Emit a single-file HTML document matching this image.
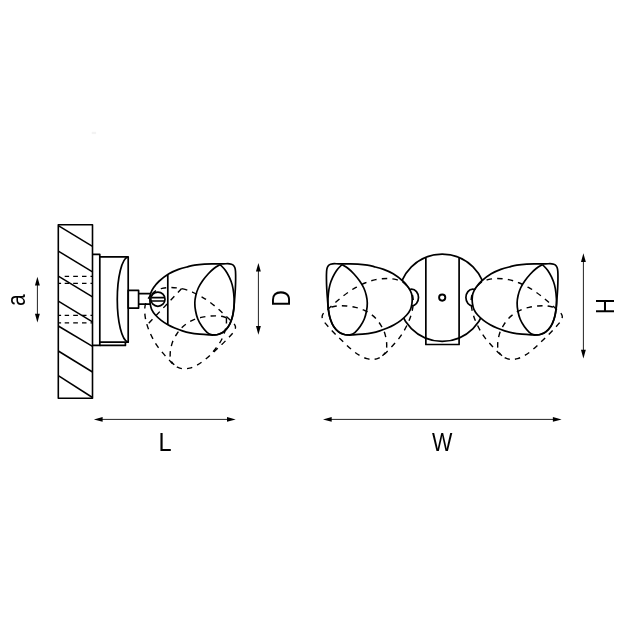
<!DOCTYPE html>
<html><head><meta charset="utf-8"><title>Diagram</title>
<style>html,body{margin:0;padding:0;background:#fff;}svg{display:block;}</style></head>
<body>
<svg width="623" height="623" viewBox="0 0 623 623">
<defs>
<g id="head"><path d="M149.90,298.80 C149.97,297.08 150.00,295.35 150.60,293.50 C151.20,291.65 152.05,289.78 153.50,287.70 C154.95,285.62 156.73,283.32 159.30,281.00 C161.87,278.68 165.70,275.73 168.90,273.80 C172.10,271.87 175.28,270.60 178.50,269.40 C181.72,268.20 185.52,267.30 188.20,266.60 C190.88,265.90 191.92,265.60 194.60,265.20 C197.28,264.80 201.08,264.42 204.30,264.20 C207.52,263.98 210.70,263.97 213.90,263.90 C217.10,263.83 220.88,263.82 223.50,263.80 C226.12,263.78 228.03,263.62 229.60,263.80 C231.17,263.98 232.03,264.28 232.90,264.90 C233.77,265.52 234.37,266.45 234.80,267.50 C235.23,268.55 235.36,269.28 235.50,271.20 C235.64,273.12 235.68,276.08 235.65,279.00 C235.62,281.92 235.51,285.48 235.35,288.70 C235.19,291.92 234.97,294.87 234.70,298.30 C234.42,301.73 234.18,305.87 233.70,309.30 C233.22,312.73 232.68,316.02 231.80,318.90 C230.92,321.78 229.77,324.43 228.40,326.60 C227.03,328.77 225.22,330.62 223.60,331.90 C221.98,333.18 220.32,333.78 218.70,334.30 C217.08,334.82 215.50,334.90 213.90,335.00 C212.30,335.10 211.47,335.03 209.10,334.90 C206.73,334.77 202.87,334.53 199.70,334.20 C196.53,333.87 192.98,333.45 190.10,332.90 C187.22,332.35 184.97,331.72 182.40,330.90 C179.83,330.08 177.12,329.03 174.70,328.00 C172.28,326.97 170.15,325.98 167.90,324.70 C165.65,323.42 163.28,321.92 161.20,320.30 C159.12,318.68 157.00,316.83 155.40,315.00 C153.80,313.17 152.47,311.17 151.60,309.30 C150.73,307.43 150.48,305.55 150.20,303.80 C149.92,302.05 149.83,300.52 149.90,298.80Z"/><path d="M220.20,264.60 C219.15,265.25 215.92,266.93 213.90,268.50 C211.88,270.07 209.98,271.95 208.10,274.00 C206.22,276.05 204.23,278.47 202.60,280.80 C200.97,283.13 199.43,285.55 198.30,288.00 C197.17,290.45 196.38,293.00 195.80,295.50 C195.22,298.00 194.83,300.42 194.80,303.00 C194.77,305.58 195.10,308.33 195.60,311.00 C196.10,313.67 196.73,316.40 197.80,319.00 C198.87,321.60 200.47,324.38 202.00,326.60 C203.53,328.82 205.50,330.98 207.00,332.30 C208.50,333.62 209.68,334.07 211.00,334.50 C212.32,334.93 214.25,334.83 214.90,334.90"/></g>
<g id="headseam"><path d="M149.90,298.80 C149.97,297.08 150.00,295.35 150.60,293.50 C151.20,291.65 152.05,289.78 153.50,287.70 C154.95,285.62 156.73,283.32 159.30,281.00 C161.87,278.68 165.70,275.73 168.90,273.80 C172.10,271.87 175.28,270.60 178.50,269.40 C181.72,268.20 185.52,267.30 188.20,266.60 C190.88,265.90 191.92,265.60 194.60,265.20 C197.28,264.80 201.08,264.42 204.30,264.20 C207.52,263.98 210.70,263.97 213.90,263.90 C217.10,263.83 220.88,263.82 223.50,263.80 C226.12,263.78 228.03,263.62 229.60,263.80 C231.17,263.98 232.03,264.28 232.90,264.90 C233.77,265.52 234.37,266.45 234.80,267.50 C235.23,268.55 235.36,269.28 235.50,271.20 C235.64,273.12 235.68,276.08 235.65,279.00 C235.62,281.92 235.51,285.48 235.35,288.70 C235.19,291.92 234.97,294.87 234.70,298.30 C234.42,301.73 234.18,305.87 233.70,309.30 C233.22,312.73 232.68,316.02 231.80,318.90 C230.92,321.78 229.77,324.43 228.40,326.60 C227.03,328.77 225.22,330.62 223.60,331.90 C221.98,333.18 220.32,333.78 218.70,334.30 C217.08,334.82 215.50,334.90 213.90,335.00 C212.30,335.10 211.47,335.03 209.10,334.90 C206.73,334.77 202.87,334.53 199.70,334.20 C196.53,333.87 192.98,333.45 190.10,332.90 C187.22,332.35 184.97,331.72 182.40,330.90 C179.83,330.08 177.12,329.03 174.70,328.00 C172.28,326.97 170.15,325.98 167.90,324.70 C165.65,323.42 163.28,321.92 161.20,320.30 C159.12,318.68 157.00,316.83 155.40,315.00 C153.80,313.17 152.47,311.17 151.60,309.30 C150.73,307.43 150.48,305.55 150.20,303.80 C149.92,302.05 149.83,300.52 149.90,298.80Z"/><path d="M234.00,298.50 C233.95,297.67 234.00,295.77 233.70,293.50 C233.40,291.23 232.93,287.62 232.20,284.90 C231.47,282.18 230.42,279.62 229.30,277.20 C228.18,274.78 227.02,272.50 225.50,270.40 C223.98,268.30 221.08,265.57 220.20,264.60 M220.20,264.60 C219.15,265.25 215.92,266.93 213.90,268.50 C211.88,270.07 209.98,271.95 208.10,274.00 C206.22,276.05 204.23,278.47 202.60,280.80 C200.97,283.13 199.43,285.55 198.30,288.00 C197.17,290.45 196.38,293.00 195.80,295.50 C195.22,298.00 194.83,300.42 194.80,303.00 C194.77,305.58 195.10,308.33 195.60,311.00 C196.10,313.67 196.73,316.40 197.80,319.00 C198.87,321.60 200.47,324.38 202.00,326.60 C203.53,328.82 205.50,330.98 207.00,332.30 C208.50,333.62 209.68,334.07 211.00,334.50 C212.32,334.93 214.25,334.83 214.90,334.90"/><path d="M167.8,274.4 L167.8,324.7"/></g>
<path id="ah" d="M0,0 L-2.45,8.7 L2.45,8.7 Z"/>
</defs>
<rect width="623" height="623" fill="#fff"/>
<g fill="none" stroke="#000" stroke-width="1.70" stroke-linejoin="round" stroke-linecap="butt">
<rect x="58.3" y="224.7" width="34.2" height="173.6" stroke-width="1.6"/>
<path d="M58.3,225.6 L92.5,246.3" stroke-width="1.5"/>
<path d="M58.3,251.1 L92.5,271.8" stroke-width="1.5"/>
<path d="M58.3,276.1 L92.5,296.8" stroke-width="1.5"/>
<path d="M58.3,301.1 L92.5,321.8" stroke-width="1.5"/>
<path d="M58.3,326.0 L92.5,346.4" stroke-width="1.5"/>
<path d="M58.3,351.0 L92.5,372.0" stroke-width="1.5"/>
<path d="M58.3,375.6 L92.5,397.5" stroke-width="1.5"/>
<path d="M64.7,276.4 L69.1,276.4 M73.2,276.4 L77.9,276.4 M82.0,276.4 L86.5,276.4 M90.5,276.4 L92.5,276.4" stroke-width="1.35"/>
<path d="M58.7,283.4 L61.1,283.4 M64.7,283.4 L69.1,283.4 M73.2,283.4 L77.9,283.4 M82.0,283.4 L86.5,283.4 M90.5,283.4 L92.5,283.4" stroke-width="1.35"/>
<path d="M58.7,315.3 L61.1,315.3 M64.7,315.3 L69.1,315.3 M73.2,315.3 L77.9,315.3 M82.0,315.3 L86.5,315.3 M90.5,315.3 L92.5,315.3" stroke-width="1.35"/>
<path d="M58.7,322.8 L61.1,322.8 M64.7,322.8 L69.1,322.8 M73.2,322.8 L77.9,322.8 M82.0,322.8 L86.5,322.8 M90.5,322.8 L92.5,322.8" stroke-width="1.35"/>
<path d="M92.5,254.4 L99.8,254.4 L99.8,345.4 L92.5,345.4"/>
<path d="M99.8,256.8 L128.2,256.8 L128.2,342.2 L99.8,342.2"/>
<path d="M99.8,345.4 L125.4,345.4 L125.4,342.2"/>
<path d="M127.8,257.0 A11.3,42.6 0 0 0 127.8,342.0"/>
<rect x="128.2" y="290.4" width="10.4" height="17.7"/>
<path d="M138.6,293.7 L150.6,293.7 M138.6,304.2 L150.6,304.2"/>
</g>
<g fill="none" stroke="#000" stroke-width="1.70" stroke-linejoin="round">
<path d="M149.90,298.80 C149.97,297.08 150.00,295.35 150.60,293.50 C151.20,291.65 152.05,289.78 153.50,287.70 C154.95,285.62 156.73,283.32 159.30,281.00 C161.87,278.68 165.70,275.73 168.90,273.80 C172.10,271.87 175.28,270.60 178.50,269.40 C181.72,268.20 185.52,267.30 188.20,266.60 C190.88,265.90 191.92,265.60 194.60,265.20 C197.28,264.80 201.08,264.42 204.30,264.20 C207.52,263.98 210.70,263.97 213.90,263.90 C217.10,263.83 220.88,263.82 223.50,263.80 C226.12,263.78 228.03,263.62 229.60,263.80 C231.17,263.98 232.03,264.28 232.90,264.90 C233.77,265.52 234.37,266.45 234.80,267.50 C235.23,268.55 235.36,269.28 235.50,271.20 C235.64,273.12 235.68,276.08 235.65,279.00 C235.62,281.92 235.51,285.48 235.35,288.70 C235.19,291.92 234.97,294.87 234.70,298.30 C234.42,301.73 234.18,305.87 233.70,309.30 C233.22,312.73 232.68,316.02 231.80,318.90 C230.92,321.78 229.77,324.43 228.40,326.60 C227.03,328.77 225.22,330.62 223.60,331.90 C221.98,333.18 220.32,333.78 218.70,334.30 C217.08,334.82 215.50,334.90 213.90,335.00 C212.30,335.10 211.47,335.03 209.10,334.90 C206.73,334.77 202.87,334.53 199.70,334.20 C196.53,333.87 192.98,333.45 190.10,332.90 C187.22,332.35 184.97,331.72 182.40,330.90 C179.83,330.08 177.12,329.03 174.70,328.00 C172.28,326.97 170.15,325.98 167.90,324.70 C165.65,323.42 163.28,321.92 161.20,320.30 C159.12,318.68 157.00,316.83 155.40,315.00 C153.80,313.17 152.47,311.17 151.60,309.30 C150.73,307.43 150.48,305.55 150.20,303.80 C149.92,302.05 149.83,300.52 149.90,298.80Z"/><path d="M220.20,264.60 C221.08,265.57 223.98,268.30 225.50,270.40 C227.02,272.50 228.18,274.78 229.30,277.20 C230.42,279.62 231.47,282.18 232.20,284.90 C232.93,287.62 233.37,290.45 233.70,293.50 C234.03,296.55 234.27,299.98 234.20,303.20 C234.13,306.42 233.77,310.00 233.30,312.80 C232.83,315.60 232.25,317.67 231.40,320.00 C230.55,322.33 229.53,324.82 228.20,326.80 C226.87,328.78 225.00,330.67 223.40,331.90 C221.80,333.13 220.02,333.70 218.60,334.20 C217.18,334.70 216.17,334.85 214.90,334.90 C213.63,334.95 212.32,334.93 211.00,334.50 C209.68,334.07 208.50,333.62 207.00,332.30 C205.50,330.98 203.53,328.82 202.00,326.60 C200.47,324.38 198.87,321.60 197.80,319.00 C196.73,316.40 196.10,313.67 195.60,311.00 C195.10,308.33 194.77,305.58 194.80,303.00 C194.83,300.42 195.22,298.00 195.80,295.50 C196.38,293.00 197.17,290.45 198.30,288.00 C199.43,285.55 200.97,283.13 202.60,280.80 C204.23,278.47 206.22,276.05 208.10,274.00 C209.98,271.95 211.88,270.07 213.90,268.50 C215.92,266.93 219.15,265.25 220.20,264.60"/><path d="M167.8,274.4 L167.8,324.7"/>
</g>
<g fill="none" stroke="#000" stroke-width="1.4" stroke-dasharray="5.4 5.2" transform="translate(-0.8 -0.3) rotate(43.5 157 300)">
<use href="#headseam"/>
</g>
<g fill="none" stroke="#000" stroke-width="1.70">
<circle cx="157.9" cy="299.2" r="7.1" fill="#fff"/>
<path d="M151.4,297.6 L164.6,297.6 M151.4,301.0 L164.6,301.0" />
</g>
<g fill="none" stroke="#000" stroke-width="1.70" stroke-linejoin="round">
<circle cx="442.2" cy="297.7" r="43.6"/>
<path d="M425.85,257.3 L425.85,344.5 L459.1,344.5 L459.1,257.3"/>
<circle cx="442.2" cy="297.6" r="3.1" stroke-width="1.9"/>
<ellipse cx="411.6" cy="297.6" rx="6.9" ry="8.4" fill="#fff"/>
<ellipse cx="472.8" cy="297.6" rx="6.9" ry="8.4" fill="#fff"/>
<g transform="translate(322.3 0)" fill="#fff"><path d="M149.90,298.80 C149.97,297.08 150.00,295.35 150.60,293.50 C151.20,291.65 152.05,289.78 153.50,287.70 C154.95,285.62 156.73,283.32 159.30,281.00 C161.87,278.68 165.70,275.73 168.90,273.80 C172.10,271.87 175.28,270.60 178.50,269.40 C181.72,268.20 185.52,267.30 188.20,266.60 C190.88,265.90 191.92,265.60 194.60,265.20 C197.28,264.80 201.08,264.42 204.30,264.20 C207.52,263.98 210.70,263.97 213.90,263.90 C217.10,263.83 220.88,263.82 223.50,263.80 C226.12,263.78 228.03,263.62 229.60,263.80 C231.17,263.98 232.03,264.28 232.90,264.90 C233.77,265.52 234.37,266.45 234.80,267.50 C235.23,268.55 235.36,269.28 235.50,271.20 C235.64,273.12 235.68,276.08 235.65,279.00 C235.62,281.92 235.51,285.48 235.35,288.70 C235.19,291.92 234.97,294.87 234.70,298.30 C234.42,301.73 234.18,305.87 233.70,309.30 C233.22,312.73 232.68,316.02 231.80,318.90 C230.92,321.78 229.77,324.43 228.40,326.60 C227.03,328.77 225.22,330.62 223.60,331.90 C221.98,333.18 220.32,333.78 218.70,334.30 C217.08,334.82 215.50,334.90 213.90,335.00 C212.30,335.10 211.47,335.03 209.10,334.90 C206.73,334.77 202.87,334.53 199.70,334.20 C196.53,333.87 192.98,333.45 190.10,332.90 C187.22,332.35 184.97,331.72 182.40,330.90 C179.83,330.08 177.12,329.03 174.70,328.00 C172.28,326.97 170.15,325.98 167.90,324.70 C165.65,323.42 163.28,321.92 161.20,320.30 C159.12,318.68 157.00,316.83 155.40,315.00 C153.80,313.17 152.47,311.17 151.60,309.30 C150.73,307.43 150.48,305.55 150.20,303.80 C149.92,302.05 149.83,300.52 149.90,298.80Z"/><path d="M220.20,264.60 C221.08,265.57 223.98,268.30 225.50,270.40 C227.02,272.50 228.18,274.78 229.30,277.20 C230.42,279.62 231.47,282.18 232.20,284.90 C232.93,287.62 233.37,290.45 233.70,293.50 C234.03,296.55 234.27,299.98 234.20,303.20 C234.13,306.42 233.77,310.00 233.30,312.80 C232.83,315.60 232.25,317.67 231.40,320.00 C230.55,322.33 229.53,324.82 228.20,326.80 C226.87,328.78 225.00,330.67 223.40,331.90 C221.80,333.13 220.02,333.70 218.60,334.20 C217.18,334.70 216.17,334.85 214.90,334.90 C213.63,334.95 212.32,334.93 211.00,334.50 C209.68,334.07 208.50,333.62 207.00,332.30 C205.50,330.98 203.53,328.82 202.00,326.60 C200.47,324.38 198.87,321.60 197.80,319.00 C196.73,316.40 196.10,313.67 195.60,311.00 C195.10,308.33 194.77,305.58 194.80,303.00 C194.83,300.42 195.22,298.00 195.80,295.50 C196.38,293.00 197.17,290.45 198.30,288.00 C199.43,285.55 200.97,283.13 202.60,280.80 C204.23,278.47 206.22,276.05 208.10,274.00 C209.98,271.95 211.88,270.07 213.90,268.50 C215.92,266.93 219.15,265.25 220.20,264.60" fill="none"/></g>
<g transform="translate(884.4 0) scale(-1 1) translate(322.3 0)" fill="#fff"><path d="M149.90,298.80 C149.97,297.08 150.00,295.35 150.60,293.50 C151.20,291.65 152.05,289.78 153.50,287.70 C154.95,285.62 156.73,283.32 159.30,281.00 C161.87,278.68 165.70,275.73 168.90,273.80 C172.10,271.87 175.28,270.60 178.50,269.40 C181.72,268.20 185.52,267.30 188.20,266.60 C190.88,265.90 191.92,265.60 194.60,265.20 C197.28,264.80 201.08,264.42 204.30,264.20 C207.52,263.98 210.70,263.97 213.90,263.90 C217.10,263.83 220.88,263.82 223.50,263.80 C226.12,263.78 228.03,263.62 229.60,263.80 C231.17,263.98 232.03,264.28 232.90,264.90 C233.77,265.52 234.37,266.45 234.80,267.50 C235.23,268.55 235.36,269.28 235.50,271.20 C235.64,273.12 235.68,276.08 235.65,279.00 C235.62,281.92 235.51,285.48 235.35,288.70 C235.19,291.92 234.97,294.87 234.70,298.30 C234.42,301.73 234.18,305.87 233.70,309.30 C233.22,312.73 232.68,316.02 231.80,318.90 C230.92,321.78 229.77,324.43 228.40,326.60 C227.03,328.77 225.22,330.62 223.60,331.90 C221.98,333.18 220.32,333.78 218.70,334.30 C217.08,334.82 215.50,334.90 213.90,335.00 C212.30,335.10 211.47,335.03 209.10,334.90 C206.73,334.77 202.87,334.53 199.70,334.20 C196.53,333.87 192.98,333.45 190.10,332.90 C187.22,332.35 184.97,331.72 182.40,330.90 C179.83,330.08 177.12,329.03 174.70,328.00 C172.28,326.97 170.15,325.98 167.90,324.70 C165.65,323.42 163.28,321.92 161.20,320.30 C159.12,318.68 157.00,316.83 155.40,315.00 C153.80,313.17 152.47,311.17 151.60,309.30 C150.73,307.43 150.48,305.55 150.20,303.80 C149.92,302.05 149.83,300.52 149.90,298.80Z"/><path d="M220.20,264.60 C221.08,265.57 223.98,268.30 225.50,270.40 C227.02,272.50 228.18,274.78 229.30,277.20 C230.42,279.62 231.47,282.18 232.20,284.90 C232.93,287.62 233.37,290.45 233.70,293.50 C234.03,296.55 234.27,299.98 234.20,303.20 C234.13,306.42 233.77,310.00 233.30,312.80 C232.83,315.60 232.25,317.67 231.40,320.00 C230.55,322.33 229.53,324.82 228.20,326.80 C226.87,328.78 225.00,330.67 223.40,331.90 C221.80,333.13 220.02,333.70 218.60,334.20 C217.18,334.70 216.17,334.85 214.90,334.90 C213.63,334.95 212.32,334.93 211.00,334.50 C209.68,334.07 208.50,333.62 207.00,332.30 C205.50,330.98 203.53,328.82 202.00,326.60 C200.47,324.38 198.87,321.60 197.80,319.00 C196.73,316.40 196.10,313.67 195.60,311.00 C195.10,308.33 194.77,305.58 194.80,303.00 C194.83,300.42 195.22,298.00 195.80,295.50 C196.38,293.00 197.17,290.45 198.30,288.00 C199.43,285.55 200.97,283.13 202.60,280.80 C204.23,278.47 206.22,276.05 208.10,274.00 C209.98,271.95 211.88,270.07 213.90,268.50 C215.92,266.93 219.15,265.25 220.20,264.60" fill="none"/></g>
</g>
<g fill="none" stroke="#000" stroke-width="1.4" stroke-dasharray="5.4 5.2">
<g transform="translate(325.3 -8.9) rotate(42 157 300)"><use href="#head"/></g>
<g transform="translate(884.4 0) scale(-1 1) translate(325.3 -8.9) rotate(42 157 300)"><use href="#head"/></g>
</g>
<path d="M37.4,280.7 L37.4,318.5" stroke="#222" stroke-width="1.0" fill="none"/>
<use href="#ah" transform="translate(37.4 276.7)" fill="#000"/>
<use href="#ah" transform="translate(37.4 322.5) rotate(180)" fill="#000"/>
<path d="M258.4,266.9 L258.4,330.7" stroke="#222" stroke-width="1.0" fill="none"/>
<use href="#ah" transform="translate(258.4 262.9)" fill="#000"/>
<use href="#ah" transform="translate(258.4 334.7) rotate(180)" fill="#000"/>
<path d="M583.4,257.35 L583.4,354.5" stroke="#222" stroke-width="1.0" fill="none"/>
<use href="#ah" transform="translate(583.4 253.35)" fill="#000"/>
<use href="#ah" transform="translate(583.4 358.5) rotate(180)" fill="#000"/>
<path d="M97.9,419.4 L231.7,419.4" stroke="#222" stroke-width="1.0" fill="none"/>
<use href="#ah" transform="translate(93.9 419.4) rotate(-90)" fill="#000"/>
<use href="#ah" transform="translate(235.7 419.4) rotate(90)" fill="#000"/>
<path d="M327,419.4 L557.6,419.4" stroke="#222" stroke-width="1.0" fill="none"/>
<use href="#ah" transform="translate(323 419.4) rotate(-90)" fill="#000"/>
<use href="#ah" transform="translate(561.6 419.4) rotate(90)" fill="#000"/>
<rect x="91.7" y="131.8" width="4.4" height="2.3" fill="#f3f3f3"/>
<g opacity="0.999" font-family="'Liberation Sans', sans-serif" font-size="25.3" fill="#000">
<text transform="translate(158.47 450.6) rotate(0) scale(0.932 1)">L</text>
<text transform="translate(432.1 450.9) rotate(0) scale(0.853 1)">W</text>
<text transform="translate(25.05 305.99) rotate(-90) scale(0.831 1)">a</text>
<text transform="translate(289.5 306.68) rotate(-90) scale(0.9076 1)">D</text>
<text transform="translate(614.2 313.99) rotate(-90) scale(0.863 1)">H</text>
</g>
</svg>
</body></html>
